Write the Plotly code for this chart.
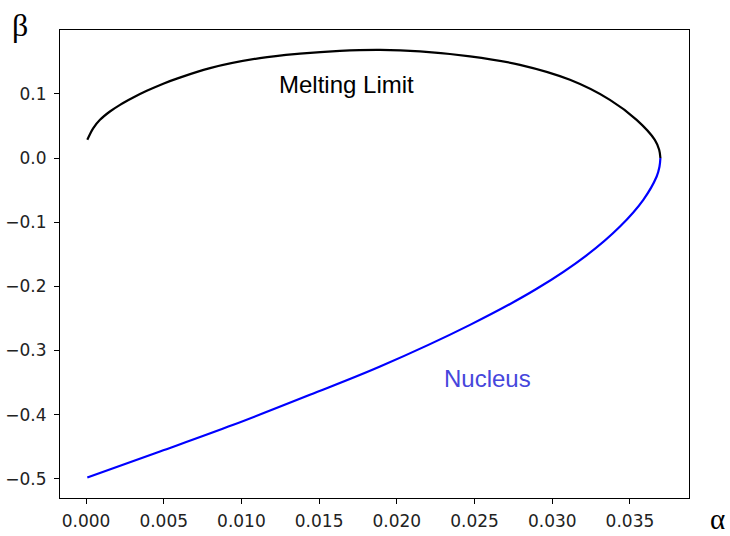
import plotly.graph_objects as go

# Melting limit curve (alpha, beta)
melt_alpha = [0.000084, 0.00047, 0.0009, 0.00154, 0.00219, 0.00304, 0.00391, 0.00497, 0.00594,
              0.00798, 0.01119, 0.01377, 0.01634, 0.01892, 0.02149, 0.02471, 0.02792, 0.03114,
              0.03371, 0.03543, 0.0366, 0.03688, 0.03696]
melt_beta = [0.0284, 0.0466, 0.0595, 0.0725, 0.0829, 0.0943, 0.1047, 0.1159, 0.1245,
             0.1401, 0.1557, 0.1627, 0.1671, 0.1686, 0.1663, 0.1585, 0.1452, 0.1219,
             0.0907, 0.0595, 0.0284, 0.0128, 0.0]

# Nucleus curve (alpha, beta)
nuc_alpha = [0.000084, 0.00476, 0.00948, 0.01441, 0.01892, 0.02471, 0.0290,
             0.03221, 0.03436, 0.03586, 0.03672, 0.0369, 0.03696]
nuc_beta = [-0.4979, -0.4574, -0.4158, -0.3690, -0.3249, -0.2600, -0.2038,
            -0.1516, -0.1067, -0.0651, -0.0288, -0.0137, 0.0]

x_ticks = [0.000, 0.005, 0.010, 0.015, 0.020, 0.025, 0.030, 0.035]
y_ticks = [-0.5, -0.4, -0.3, -0.2, -0.1, 0.0, 0.1]

fig = go.Figure()
fig.add_trace(go.Scatter(x=melt_alpha, y=melt_beta, mode="lines",
                         line=dict(color="black", width=2.2, shape="spline", smoothing=1.0),
                         showlegend=False))
fig.add_trace(go.Scatter(x=nuc_alpha, y=nuc_beta, mode="lines",
                         line=dict(color="#0000ff", width=2.2, shape="spline", smoothing=1.0),
                         showlegend=False))

axis_common = dict(showgrid=False, zeroline=False, showline=True, linecolor="black",
                   linewidth=1, mirror=True, ticks="outside", ticklen=5, tickwidth=1,
                   tickcolor="black", automargin=False,
                   tickfont=dict(family="DejaVu Sans", size=17, color="#222"))

fig.update_xaxes(range=[-0.001673, 0.0388], tickvals=x_ticks, tickformat=".3f",
                 ticklabelstandoff=3, **axis_common)
fig.update_yaxes(range=[-0.5298, 0.1995], tickvals=y_ticks, tickformat=".1f",
                 ticklabelstandoff=4, **axis_common)

ann = dict(xref="paper", yref="paper", showarrow=False, xanchor="center", yanchor="middle")
fig.add_annotation(text="Melting Limit", x=0.4547, y=0.8825,
                   font=dict(family="Liberation Sans", size=24, color="black"), **ann)
fig.add_annotation(text="Nucleus", x=0.679, y=0.2543,
                   font=dict(family="Liberation Sans", size=24, color="#4646DC"), **ann)
fig.add_annotation(text="β", x=-0.0636, y=1.0107,
                   font=dict(family="Liberation Serif", size=32, color="black"), **ann)
fig.add_annotation(text="α", x=1.046, y=-0.0449,
                   font=dict(family="Liberation Serif", size=29, color="black"), **ann)

fig.update_layout(width=730, height=536, margin=dict(l=60, r=41, t=30, b=38),
                  plot_bgcolor="white", paper_bgcolor="white")

fig.write_html("out.html")
